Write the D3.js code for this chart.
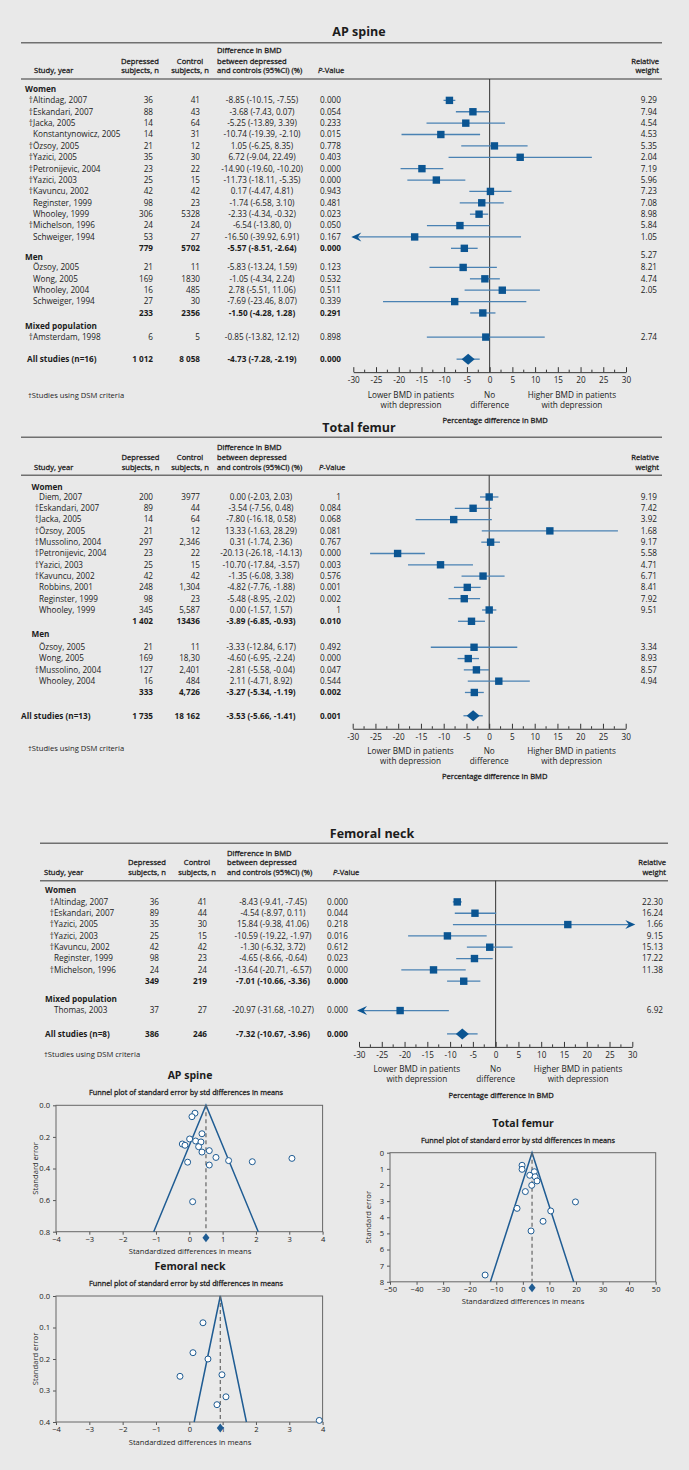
<!DOCTYPE html>
<html><head><meta charset="utf-8">
<script src="https://cdn.jsdelivr.net/npm/d3@7"></script>
<style>
html,body{margin:0;padding:0;background:#e9e9e9;}
svg{display:block;font-family:"Open Sans",sans-serif;}
</style></head><body>
<svg id="c" width="689" height="1470"></svg>
<script>
// ---------------- DATA ----------------
// AP spine
const apGroups = ["Women", "Men", "Mixed population"];
const apStudies = ["†Altindag, 2007","†Eskandari, 2007","†Jacka, 2005","Konstantynowicz, 2005","†Özsoy, 2005","†Yazici, 2005","†Petronijevic, 2004","†Yazici, 2003","†Kavuncu, 2002","Reginster, 1999","Whooley, 1999","†Michelson, 1996","Schweiger, 1994","Özsoy, 2005","Wong, 2005","Whooley, 2004","Schweiger, 1994","†Amsterdam, 1998"];
const apGroupOf = [0,0,0,0,0,0,0,0,0,0,0,0,0,1,1,1,1,2];
const apDep = ["36","88","14","14","21","35","23","25","42","98","306","24","53","21","169","16","27","6"];
const apCtl = ["41","43","64","31","12","30","22","15","42","23","5328","24","27","11","1830","485","30","5"];
const apEst = ["-8.85","-3.68","-5.25","-10.74","1.05","6.72","-14.90","-11.73","0.17","-1.74","-2.33","-6.54","-16.50","-5.83","-1.05","2.78","-7.69","-0.85"];
const apLo = ["-10.15","-7.43","-13.89","-19.39","-6.25","-9.04","-19.60","-18.11","-4.47","-6.58","-4.34","-13.80","-39.92","-13.24","-4.34","-5.51","-23.46","-13.82"];
const apHi = ["-7.55","0.07","3.39","-2.10","8.35","22.49","-10.20","-5.35","4.81","3.10","-0.32","0","6.91","1.59","2.24","11.06","8.07","12.12"];
const apP = ["0.000","0.054","0.233","0.015","0.778","0.403","0.000","0.000","0.943","0.481","0.023","0.050","0.167","0.123","0.532","0.511","0.339","0.898"];
const apWeight = ["9.29","7.94","4.54","4.53","5.35","2.04","7.19","5.96","7.23","7.08","8.98","5.84","1.05","8.21","4.74","2.05","","2.74"];
const apSubDep = ["779","233",null];
const apSubCtl = ["5702","2356",null];
const apSubEst = ["-5.57","-1.50",null];
const apSubLo = ["-8.51","-4.28",null];
const apSubHi = ["-2.64","1.28",null];
const apSubP = ["0.000","0.291",null];
const apSubWeight = ["5.27","",null];
const apAll = ["All studies (n=16)","1 012","8 058","-4.73","-7.28","-2.19","0.000"];

// Total femur
const tfGroups = ["Women", "Men"];
const tfStudies = ["Diem, 2007","†Eskandari, 2007","†Jacka, 2005","†Özsoy, 2005","†Mussolino, 2004","†Petronijevic, 2004","†Yazici, 2003","†Kavuncu, 2002","Robbins, 2001","Reginster, 1999","Whooley, 1999","Özsoy, 2005","Wong, 2005","†Mussolino, 2004","Whooley, 2004"];
const tfGroupOf = [0,0,0,0,0,0,0,0,0,0,0,1,1,1,1];
const tfDep = ["200","89","14","21","297","23","25","42","248","98","345","21","169","127","16"];
const tfCtl = ["3977","44","64","12","2,346","22","15","42","1,304","23","5,587","11","18,30","2,401","484"];
const tfEst = ["0.00","-3.54","-7.80","13.33","0.31","-20.13","-10.70","-1.35","-4.82","-5.48","0.00","-3.33","-4.60","-2.81","2.11"];
const tfLo = ["-2.03","-7.56","-16.18","-1.63","-1.74","-26.18","-17.84","-6.08","-7.76","-8.95","-1.57","-12.84","-6.95","-5.58","-4.71"];
const tfHi = ["2.03","0.48","0.58","28.29","2.36","-14.13","-3.57","3.38","-1.88","-2.02","1.57","6.17","-2.24","-0.04","8.92"];
const tfP = ["1","0.084","0.068","0.081","0.767","0.000","0.003","0.576","0.001","0.002","1","0.492","0.000","0.047","0.544"];
const tfWeight = ["9.19","7.42","3.92","1.68","9.17","5.58","4.71","6.71","8.41","7.92","9.51","3.34","8.93","8.57","4.94"];
const tfSubDep = ["1 402","333"];
const tfSubCtl = ["13436","4,726"];
const tfSubEst = ["-3.89","-3.27"];
const tfSubLo = ["-6.85","-5.34"];
const tfSubHi = ["-0.93","-1.19"];
const tfSubP = ["0.010","0.002"];
const tfSubWeight = ["",""];
const tfAll = ["All studies (n=13)","1 735","18 162","-3.53","-5.66","-1.41","0.001"];

// Femoral neck
const fnGroups = ["Women", "Mixed population"];
const fnStudies = ["†Altindag, 2007","†Eskandari, 2007","†Yazici, 2005","†Yazici, 2003","†Kavuncu, 2002","Reginster, 1999","†Michelson, 1996","Thomas, 2003"];
const fnGroupOf = [0,0,0,0,0,0,0,1];
const fnDep = ["36","89","35","25","42","98","24","37"];
const fnCtl = ["41","44","30","15","42","23","24","27"];
const fnEst = ["-8.43","-4.54","15.84","-10.59","-1.30","-4.65","-13.64","-20.97"];
const fnLo = ["-9.41","-8.97","-9.38","-19.22","-6.32","-8.66","-20.71","-31.68"];
const fnHi = ["-7.45","0.11","41.06","-1.97","3.72","-0.64","-6.57","-10.27"];
const fnP = ["0.000","0.044","0.218","0.016","0.612","0.023","0.000","0.000"];
const fnWeight = ["22.30","16.24","1.66","9.15","15.13","17.22","11.38","6.92"];
const fnSubDep = ["349",null];
const fnSubCtl = ["219",null];
const fnSubEst = ["-7.01",null];
const fnSubLo = ["-10.66",null];
const fnSubHi = ["-3.36",null];
const fnSubP = ["0.000",null];
const fnSubWeight = ["",null];
const fnAll = ["All studies (n=8)","386","246","-7.32","-10.67","-3.96","0.000"];

// Forest axis
const forestTicks = [-30,-25,-20,-15,-10,-5,0,5,10,15,20,25,30];

// Funnel plots
const apFunnelDiff = [0.17,0.08,0.38,0.01,-0.21,-0.13,0.19,0.35,0.28,0.38,0.60,0.80,1.18,1.89,3.08,-0.05,0.60,0.10];
const apFunnelSE   = [0.05,0.072,0.18,0.213,0.245,0.253,0.226,0.232,0.262,0.296,0.287,0.33,0.35,0.357,0.336,0.36,0.378,0.61];
const apFunnelMean = 0.5;
const apFunnelXTicks = [-4,-3,-2,-1,0,1,2,3,4];
const apFunnelYTicks = [0,0.2,0.4,0.6,0.8];

const tfFunnelDiff = [-0.3,-0.3,4.33,2.6,4.6,5.34,3.34,0.94,19.8,-2.18,10.5,7.6,3.09,-14.2];
const tfFunnelSE   = [0.78,1.03,1.18,1.4,1.49,1.75,2.02,2.41,3.05,3.45,3.61,4.25,4.85,7.58];
const tfFunnelMean = 3.46;
const tfFunnelXTicks = [-50,-40,-30,-20,-10,0,10,20,30,40,50];
const tfFunnelYTicks = [0,1,2,3,4,5,6,7,8];

const fnFunnelDiff = [0.41,0.11,0.56,-0.28,0.98,1.1,0.83,3.9];
const fnFunnelSE   = [0.085,0.18,0.2,0.255,0.25,0.32,0.345,0.395];
const fnFunnelMean = 0.93;
const fnFunnelXTicks = [-4,-3,-2,-1,0,1,2,3,4];
const fnFunnelYTicks = [0,0.1,0.2,0.3,0.4];

// ---------------- DRAWING ----------------
const svg = d3.select("#c");
const SQ = "#0b5592", CIC = "#4a82b3", TXT = "#1c1c1c", RULE = "#707070", FUN = "#1f5c93";
const FS = 8.2;

function txt(g, x, y, s, o = {}) {
  const t = g.append("text").attr("x", x).attr("y", y).attr("dy", "0.35em")
    .attr("font-size", o.size || FS).attr("fill", TXT)
    .attr("text-anchor", o.anchor || "start")
    .attr("font-weight", o.bold ? "bold" : "normal");
  if (o.semi) t.attr("stroke", TXT).attr("stroke-width", 0.28);
  t.text(s);
  return t;
}

function forest(cfg, d) {
  const g = svg.append("g");
  txt(g, cfg.titleX, cfg.titleY, cfg.title, {size: 12.5, bold: true, anchor: "middle"});
  g.append("line").attr("x1", cfg.ruleL).attr("x2", cfg.ruleR).attr("y1", cfg.topRule).attr("y2", cfg.topRule)
    .attr("stroke", RULE).attr("stroke-width", 1.5);
  const [h1, h2, h3] = cfg.headY;
  const hs = {size: 7.6, semi: true};
  txt(g, cfg.studyX, h3, "Study, year", hs);
  txt(g, cfg.depHC, h2, "Depressed", {...hs, anchor: "middle"});
  txt(g, cfg.depHC, h3, "subjects, n", {...hs, anchor: "middle"});
  txt(g, cfg.ctlHC, h2, "Control", {...hs, anchor: "middle"});
  txt(g, cfg.ctlHC, h3, "subjects, n", {...hs, anchor: "middle"});
  txt(g, cfg.diffHL, h1, "Difference in BMD", hs);
  txt(g, cfg.diffHL, h2, "between depressed", hs);
  txt(g, cfg.diffHL, h3, "and controls (95%CI) (%)", hs);
  const pt = txt(g, cfg.pHL, h3, "", hs);
  pt.append("tspan").attr("font-style", "italic").text("P");
  pt.append("tspan").text("-Value");
  txt(g, cfg.whR, h2, "Relative", {...hs, anchor: "end"});
  txt(g, cfg.whR, h3, "weight", {...hs, anchor: "end"});
  g.append("line").attr("x1", cfg.ruleL).attr("x2", cfg.ruleR).attr("y1", cfg.headRule).attr("y2", cfg.headRule)
    .attr("stroke", RULE).attr("stroke-width", 1.5);

  const rows = [];
  let y = cfg.start;
  d.groups.forEach((gname, gi) => {
    if (gi > 0) y += cfg.step * cfg.groupBefore[gi];
    rows.push({type: "group", label: gname, y});
    let first = true;
    d.studies.forEach((s, i) => {
      if (d.groupOf[i] !== gi) return;
      y += cfg.step * (first ? cfg.groupAfter[gi] : 1);
      first = false;
      rows.push({type: "study", label: s, dep: d.dep[i], ctl: d.ctl[i], est: d.est[i], lo: d.lo[i], hi: d.hi[i], p: d.p[i], w: d.w[i], y});
    });
    if (d.subDep[gi] != null) {
      y += cfg.step;
      rows.push({type: "sub", label: "", dep: d.subDep[gi], ctl: d.subCtl[gi], est: d.subEst[gi], lo: d.subLo[gi], hi: d.subHi[gi], p: d.subP[gi], w: d.subW[gi], y});
    }
  });
  y += cfg.step * cfg.allGap;
  const A = d.all;
  rows.push({type: "all", label: A[0], dep: A[1], ctl: A[2], est: A[3], lo: A[4], hi: A[5], p: A[6], w: "", y});

  const x = d3.scaleLinear().domain([-30, 30]).range([cfg.xL, cfg.xR]);
  const axisY = y + 13;

  g.append("line").attr("x1", x(0)).attr("x2", x(0)).attr("y1", cfg.headRule).attr("y2", axisY)
    .attr("stroke", "#333").attr("stroke-width", 1);

  rows.forEach(r => {
    if (r.type === "group") { txt(g, cfg.groupX, r.y, r.label, {bold: true}); return; }
    const bold = r.type !== "study";
    if (r.type === "study") {
      if (r.label.startsWith("†")) {
        txt(g, cfg.nameX, r.y, "†", {anchor: "end"});
        txt(g, cfg.nameX, r.y, r.label.slice(1));
      } else txt(g, cfg.nameX, r.y, r.label);
    } else if (r.type === "all") {
      txt(g, cfg.allX, r.y, r.label, {bold: true});
    }
    txt(g, cfg.depR, r.y, r.dep, {anchor: "end", bold});
    txt(g, cfg.ctlR, r.y, r.ctl, {anchor: "end", bold});
    txt(g, cfg.diffC, r.y, `${r.est} (${r.lo}, ${r.hi})`, {anchor: "middle", bold});
    txt(g, cfg.pR, r.y, r.p, {anchor: "end", bold});
    if (r.w) txt(g, cfg.wR, r.y + (r.type === "sub" ? cfg.step * 0.62 : 0), r.w, {anchor: "end"});

    const est = +r.est, lo = +r.lo, hi = +r.hi;
    const cy = r.y;
    g.append("line").attr("x1", x(Math.max(lo, -30))).attr("x2", x(Math.min(hi, 30)))
      .attr("y1", cy).attr("y2", cy).attr("stroke", CIC).attr("stroke-width", 1.3);
    if (lo < -30) {
      const t = x(-30) - 2;
      g.append("path").attr("d", `M${t},${cy} L${t + 10},${cy - 4.5} L${t + 6.5},${cy} L${t + 10},${cy + 4.5} Z`).attr("fill", SQ);
    }
    if (hi > 30) {
      const t = x(30) + 3;
      g.append("path").attr("d", `M${t},${cy} L${t - 10},${cy - 4.5} L${t - 6.5},${cy} L${t - 10},${cy + 4.5} Z`).attr("fill", SQ);
    }
    if (r.type === "all") {
      const cx = x(est);
      g.append("path").attr("d", `M${cx - 6.5},${cy} L${cx},${cy - 5.5} L${cx + 6.5},${cy} L${cx},${cy + 5.5} Z`).attr("fill", SQ);
    } else {
      g.append("rect").attr("x", x(est) - 3.7).attr("y", cy - 3.7).attr("width", 7.4).attr("height", 7.4).attr("fill", SQ);
    }
  });

  const ax = g.append("g").attr("transform", `translate(0,${axisY})`)
    .call(d3.axisBottom(x).tickValues(forestTicks).tickSizeInner(-5).tickSizeOuter(0).tickPadding(5).tickFormat(v => String(v)));
  ax.select(".domain").attr("stroke", "#333");
  ax.selectAll(".tick line").attr("stroke", "#333");
  ax.selectAll("text").attr("font-size", FS).attr("fill", TXT).attr("font-family", "Open Sans");
  forestTicks.slice(0, -1).forEach(v => {
    g.append("line").attr("x1", x(v + 2.5)).attr("x2", x(v + 2.5)).attr("y1", axisY).attr("y2", axisY - 2.5).attr("stroke", "#333");
  });
  const lx1 = x(-17.3), lx3 = x(18.1);
  txt(g, lx1, axisY + 22.5, "Lower BMD in patients", {anchor: "middle"});
  txt(g, lx1, axisY + 32.5, "with depression", {anchor: "middle"});
  txt(g, x(0), axisY + 22.5, "No", {anchor: "middle"});
  txt(g, x(0), axisY + 32.5, "difference", {anchor: "middle"});
  txt(g, lx3, axisY + 22.5, "Higher BMD in patients", {anchor: "middle"});
  txt(g, lx3, axisY + 32.5, "with depression", {anchor: "middle"});
  txt(g, x(0) + 5.5, axisY + 48, "Percentage difference in BMD", {anchor: "middle", semi: true, size: 7.6});

  txt(g, cfg.footX, cfg.footY, "†Studies using DSM criteria", {size: 7.6});
}

forest({title: "AP spine", titleX: 359, titleY: 32, ruleL: 21, ruleR: 662, topRule: 42.7,
  headY: [50.7, 61, 70.7], headRule: 79, studyX: 34, depHC: 140, ctlHC: 190, diffHL: 217, pHL: 318, whR: 659,
  groupX: 25, nameX: 33, allX: 27, depR: 153, ctlR: 200, diffC: 262, pR: 341, wR: 657,
  xL: 353.3, xR: 626, start: 89, step: 11.38, groupBefore: [0, 0.76, 1.12], groupAfter: [1.0, 0.92, 1.0], allGap: 1.94,
  footX: 28, footY: 395},
  {groups: apGroups, studies: apStudies, groupOf: apGroupOf, dep: apDep, ctl: apCtl, est: apEst, lo: apLo, hi: apHi, p: apP, w: apWeight,
   subDep: apSubDep, subCtl: apSubCtl, subEst: apSubEst, subLo: apSubLo, subHi: apSubHi, subP: apSubP, subW: apSubWeight, all: apAll});

forest({title: "Total femur", titleX: 359, titleY: 428, ruleL: 21, ruleR: 662, topRule: 437.3,
  headY: [447.7, 457.3, 467], headRule: 475.3, studyX: 34, depHC: 140.5, ctlHC: 190, diffHL: 217, pHL: 319, whR: 659,
  groupX: 31.5, nameX: 39, allX: 21, depR: 153, ctlR: 200, diffC: 261, pR: 341, wR: 657,
  xL: 352.7, xR: 625.7, start: 486.7, step: 11.3, groupBefore: [0, 1.12], groupAfter: [0.91, 1.18], allGap: 2.06,
  footX: 28, footY: 748},
  {groups: tfGroups, studies: tfStudies, groupOf: tfGroupOf, dep: tfDep, ctl: tfCtl, est: tfEst, lo: tfLo, hi: tfHi, p: tfP, w: tfWeight,
   subDep: tfSubDep, subCtl: tfSubCtl, subEst: tfSubEst, subLo: tfSubLo, subHi: tfSubHi, subP: tfSubP, subW: tfSubWeight, all: tfAll});

forest({title: "Femoral neck", titleX: 372, titleY: 834, ruleL: 40, ruleR: 668, topRule: 843.3,
  headY: [853.3, 862.7, 872.7], headRule: 880.7, studyX: 44, depHC: 147, ctlHC: 197, diffHL: 227, pHL: 333, whR: 666,
  groupX: 45, nameX: 54, allX: 45, depR: 159, ctlR: 207, diffC: 273, pR: 348, wR: 663,
  xL: 359, xR: 632.3, start: 890, step: 11.33, groupBefore: [0, 1.62], groupAfter: [1.05, 0.97], allGap: 2.06,
  footX: 44, footY: 1054},
  {groups: fnGroups, studies: fnStudies, groupOf: fnGroupOf, dep: fnDep, ctl: fnCtl, est: fnEst, lo: fnLo, hi: fnHi, p: fnP, w: fnWeight,
   subDep: fnSubDep, subCtl: fnSubCtl, subEst: fnSubEst, subLo: fnSubLo, subHi: fnSubHi, subP: fnSubP, subW: fnSubWeight, all: fnAll});

function funnel(cfg, xs, ses, mean) {
  const g = svg.append("g");
  const x = d3.scaleLinear().domain(cfg.xd).range([cfg.x0, cfg.x1]);
  const y = d3.scaleLinear().domain([0, cfg.ymax]).range([cfg.y0, cfg.y1]);
  txt(g, cfg.titleX, cfg.y0 - 29.6, cfg.title, {size: 10.5, bold: true, anchor: "middle"});
  txt(g, cfg.subX, cfg.y0 - 12.5, "Funnel plot of standard error by std differences in  means", {size: 7.3, semi: true, anchor: "middle"});
  const xa = g.append("g").attr("transform", `translate(0,${cfg.y1})`)
    .call(d3.axisBottom(x).tickValues(cfg.xt).tickSize(3).tickPadding(2));
  const ya = g.append("g").attr("transform", `translate(${cfg.x0},0)`)
    .call(d3.axisLeft(y).tickValues(cfg.yt).tickSize(3).tickPadding(3).tickFormat(cfg.yf));
  [xa, ya].forEach(a => {
    a.select(".domain").remove();
    a.selectAll(".tick line").attr("stroke", "#555");
    a.selectAll("text").attr("font-size", 7.6).attr("fill", TXT).attr("font-family", "Open Sans");
  });
  g.append("rect").attr("x", cfg.x0).attr("y", cfg.y0).attr("width", cfg.x1 - cfg.x0).attr("height", cfg.y1 - cfg.y0)
    .attr("fill", "none").attr("stroke", "#666").attr("stroke-width", 1);
  txt(g, cfg.xTitleX, cfg.y1 + 20, "Standardized differences in means", {size: 7.6, anchor: "middle"});
  g.append("text").attr("transform", `translate(${cfg.yTitleX},${(cfg.y0 + cfg.y1) / 2}) rotate(-90)`)
    .attr("text-anchor", "middle").attr("dy", "0.35em").attr("font-size", 7.6).attr("fill", TXT).text("Standard error");
  const m = cfg.ymax;
  g.append("path").attr("d", `M${x(mean - 1.96 * m)},${y(m)} L${x(mean)},${y(0)} L${x(mean + 1.96 * m)},${y(m)}`)
    .attr("fill", "none").attr("stroke", FUN).attr("stroke-width", 1.5);
  g.append("line").attr("x1", x(mean)).attr("x2", x(mean)).attr("y1", y(0)).attr("y2", y(m))
    .attr("stroke", "#666").attr("stroke-width", 1.2).attr("stroke-dasharray", "4,3");
  g.selectAll("circle.pt").data(xs.map((v, i) => [v, ses[i]])).join("circle")
    .attr("cx", p => x(p[0])).attr("cy", p => y(p[1])).attr("r", 3)
    .attr("fill", "#fff").attr("stroke", FUN).attr("stroke-width", 1);
  const dx = x(mean), dy = cfg.y1 + 6;
  g.append("path").attr("d", `M${dx - 3.5},${dy} L${dx},${dy - 4.5} L${dx + 3.5},${dy} L${dx},${dy + 4.5} Z`).attr("fill", FUN);
}

funnel({title: "AP spine", titleX: 190, subX: 186, x0: 56, x1: 322.6, y0: 1105.3, y1: 1231.7, xd: [-4, 4], ymax: 0.8,
  xt: apFunnelXTicks, yt: apFunnelYTicks, yf: d3.format(".1f"), xTitleX: 190, yTitleX: 35},
  apFunnelDiff, apFunnelSE, apFunnelMean);
funnel({title: "Total femur", titleX: 523, subX: 518, x0: 390, x1: 655.7, y0: 1152.7, y1: 1281.8, xd: [-50, 50], ymax: 8,
  xt: tfFunnelXTicks, yt: tfFunnelYTicks, yf: d3.format("d"), xTitleX: 523, yTitleX: 368},
  tfFunnelDiff, tfFunnelSE, tfFunnelMean);
funnel({title: "Femoral neck", titleX: 190, subX: 186, x0: 56, x1: 322.6, y0: 1296, y1: 1422, xd: [-4, 4], ymax: 0.4,
  xt: fnFunnelXTicks, yt: fnFunnelYTicks, yf: d3.format(".1f"), xTitleX: 190, yTitleX: 35},
  fnFunnelDiff, fnFunnelSE, fnFunnelMean);
</script>
</body></html>
